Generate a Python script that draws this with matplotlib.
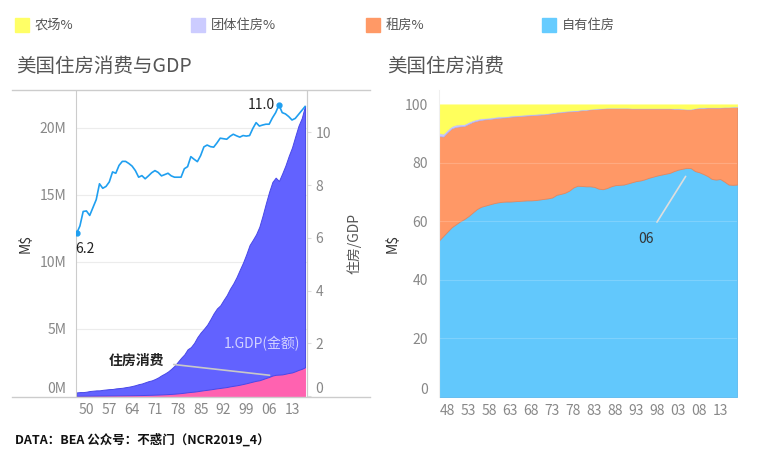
import numpy as np
import matplotlib
matplotlib.use("Agg")
import matplotlib.pyplot as plt
from matplotlib.lines import Line2D
from matplotlib.patches import Rectangle

plt.rcParams['font.family'] = ['Noto Sans CJK SC', 'DejaVu Sans']

# --- DATA: left chart (1947-2017), billions of dollars ---
years_l = list(range(1947, 2018))
gdp = [249.9, 274.8, 272.5, 300.2, 347.3, 367.7, 389.7, 391.1, 426.2, 450.1,
       474.9, 482.0, 522.5, 543.3, 563.3, 605.1, 638.6, 685.8, 743.7, 815.0,
       861.7, 942.5, 1019.9, 1073.3, 1164.9, 1279.1, 1425.4, 1545.2, 1684.9, 1873.4,
       2081.8, 2351.6, 2627.3, 2857.3, 3207.0, 3343.8, 3634.0, 4037.6, 4339.0, 4579.6,
       4855.2, 5236.4, 5641.6, 5963.1, 6158.1, 6520.3, 6858.6, 7287.2, 7639.7, 8073.1,
       8577.6, 9062.8, 9631.2, 10251.0, 10581.8, 10936.4, 11458.2, 12213.7, 13036.6, 13814.6,
       14451.9, 14712.8, 14448.9, 14992.1, 15542.6, 16197.0, 16784.9, 17527.3, 18224.8, 18715.0,
       19519.4]
housing = [15.4, 17.7, 19.1, 21.1, 23.8, 26.3, 29.0, 31.5, 33.6, 35.8,
           38.6, 41.0, 44.2, 47.5, 50.1, 53.9, 56.3, 59.8, 63.6, 67.6,
           72.0, 77.7, 85.2, 90.9, 99.6, 108.5, 119.0, 129.8, 142.4, 156.4,
           172.8, 195.2, 218.1, 246.3, 279.0, 303.6, 326.3, 358.9, 395.7, 432.8,
           462.2, 495.4, 532.6, 572.5, 602.3, 636.4, 668.0, 717.8, 758.6, 796.8,
           842.3, 895.4, 949.6, 1012.8, 1074.1, 1134.1, 1173.3, 1255.6, 1344.1, 1424.3,
           1524.7, 1581.6, 1595.2, 1611.6, 1663.1, 1716.9, 1757.4, 1845.6, 1946.4, 2026.8,
           2143.2]
ratio = [6.17, 6.45, 7.0, 7.02, 6.85, 7.15, 7.45, 8.05, 7.88, 7.95,
         8.12, 8.5, 8.45, 8.75, 8.9, 8.9, 8.82, 8.72, 8.55, 8.3,
         8.36, 8.24, 8.35, 8.47, 8.55, 8.48, 8.35, 8.4, 8.45, 8.35,
         8.3, 8.3, 8.3, 8.62, 8.7, 9.08, 8.98, 8.89, 9.12, 9.45,
         9.52, 9.46, 9.44, 9.6, 9.78, 9.76, 9.74, 9.85, 9.93, 9.87,
         9.82, 9.88, 9.86, 9.88, 10.15, 10.37, 10.24, 10.28, 10.31, 10.31,
         10.55, 10.75, 11.04, 10.75, 10.7, 10.6, 10.47, 10.53, 10.68, 10.83,
         10.98]
xticks_l = [1950, 1957, 1964, 1971, 1978, 1985, 1992, 1999, 2006, 2013]

# --- DATA: right chart (1946-2017), share in % ---
years_r = list(range(1946, 2018))
owner = [53.5, 55.0, 56.5, 58.0, 59.0, 60.0, 60.8, 61.8, 63.0, 64.2,
         65.0, 65.4, 65.8, 66.2, 66.5, 66.7, 66.8, 66.8, 66.9, 67.0,
         67.1, 67.2, 67.2, 67.3, 67.5, 67.7, 67.9, 68.2, 69.1, 69.4,
         69.8, 70.5, 71.6, 72.2, 72.1, 72.0, 72.0, 71.8, 71.2, 71.0,
         71.4, 72.0, 72.4, 72.5, 72.6, 73.0, 73.4, 73.8, 74.0, 74.4,
         74.9, 75.3, 75.7, 76.0, 76.3, 76.6, 77.2, 77.7, 78.0, 78.3,
         78.2, 77.2, 76.8, 76.2, 75.5, 74.5, 74.3, 74.5, 73.6, 72.6,
         72.5, 72.6]
rent = [35.7, 34.0, 34.0, 33.8, 33.3, 32.5, 31.8, 31.5, 31.0, 30.2,
        29.7, 29.5, 29.2, 29.0, 28.9, 28.8, 28.8, 29.0, 29.0, 29.0,
        29.0, 29.0, 29.1, 29.1, 29.0, 28.9, 28.9, 28.8, 28.1, 27.9,
        27.7, 27.1, 26.1, 25.6, 25.9, 26.1, 26.3, 26.6, 27.3, 27.6,
        27.3, 26.7, 26.3, 26.2, 26.1, 25.7, 25.2, 24.8, 24.6, 24.2,
        23.7, 23.3, 22.9, 22.6, 22.3, 22.0, 21.3, 20.8, 20.4, 20.0,
        20.1, 21.4, 22.0, 22.6, 23.4, 24.4, 24.6, 24.4, 25.4, 26.4,
        26.6, 26.5]
group = [1.0, 1.0, 0.9, 0.8, 0.8, 0.7, 0.7, 0.7, 0.6, 0.6,
         0.6, 0.5, 0.5, 0.5, 0.5, 0.4, 0.4, 0.4, 0.4, 0.4,
         0.4, 0.4, 0.4, 0.4, 0.4, 0.3, 0.3, 0.3, 0.3, 0.3,
         0.3, 0.3, 0.3, 0.3, 0.3, 0.2, 0.2, 0.2, 0.2, 0.2,
         0.2, 0.2, 0.2, 0.2, 0.2, 0.2, 0.2, 0.2, 0.2, 0.2,
         0.2, 0.2, 0.2, 0.2, 0.2, 0.2, 0.2, 0.2, 0.2, 0.2,
         0.2, 0.2, 0.2, 0.2, 0.2, 0.2, 0.2, 0.2, 0.2, 0.2,
         0.2, 0.2]
farm = [9.8, 10.0, 8.6, 7.4, 6.9, 6.8, 6.7, 6.0, 5.4, 5.0,
        4.7, 4.6, 4.5, 4.3, 4.1, 4.1, 4.0, 3.8, 3.7, 3.6,
        3.5, 3.4, 3.3, 3.2, 3.1, 3.1, 2.9, 2.7, 2.5, 2.4,
        2.2, 2.1, 2.0, 1.9, 1.7, 1.7, 1.5, 1.4, 1.3, 1.2,
        1.1, 1.1, 1.1, 1.1, 1.1, 1.1, 1.2, 1.2, 1.2, 1.2,
        1.2, 1.2, 1.2, 1.2, 1.2, 1.2, 1.3, 1.3, 1.4, 1.5,
        1.5, 1.2, 1.0, 1.0, 0.9, 0.9, 0.9, 0.9, 0.8, 0.8,
        0.7, 0.7]
xticks_r = list(range(1948, 2018, 5))

legend_labels = ['农场%', '团体住房%', '租房%', '自有住房']
legend_colors = ['#ffff66', '#ccccff', '#ff9966', '#66ccff']

W, H = 762, 465
fig = plt.figure(figsize=(W / 100, H / 100), dpi=100)


def fx(x):
    return x / W


def fy(y):
    return 1 - y / H


tick_c = '#888888'
frame_c = '#cccccc'

# --- LEFT CHART ---
ax1 = fig.add_axes([fx(76), fy(396), 231 / W, 305 / H])
polys = ax1.stackplot(years_l, housing, gdp, colors=['#ff62b0', '#6262ff'], linewidth=0.7)
for p, ec in zip(polys, ['#ff62b0', '#4848e8']):
    p.set_edgecolor(ec)
ax1.set_xlim(1946.8, 2017.6)
ax1.set_ylim(0, 22760)
ax1.set_yticks([0, 5000, 10000, 15000, 20000])
ax1.set_yticklabels(['0M', '5M', '10M', '15M', '20M'])
ax1.set_xticks(xticks_l)
ax1.set_xticklabels([str(y)[2:] for y in xticks_l])
ax1.grid(axis='y', color='#ececec', lw=0.8)
ax1.set_axisbelow(True)
ax1.tick_params(colors=tick_c, labelsize=10, length=0)
ax1.tick_params(axis='y', pad=7)
ax1.tick_params(axis='x', pad=5)
for s in ['top', 'bottom']:
    ax1.spines[s].set_visible(False)
for s in ['left', 'right']:
    ax1.spines[s].set_color(frame_c)
ax1.set_ylabel('M$', color='#333333', fontsize=10)
ax1.yaxis.set_label_coords(-0.186, 0.5)
ax1.get_yticklabels()[0].set_va('bottom')

ax2 = ax1.twinx()
line_c = '#1f9ff0'
ax2.plot(years_l, ratio, color=line_c, lw=1.2)
ax2.set_ylim(0, 11.57)
ax2.set_yticks([0, 2, 4, 6, 8, 10])
ax2.tick_params(axis='y', colors='#dddddd', labelcolor=tick_c, labelsize=10,
                length=3, pad=3)
for s in ['top', 'bottom', 'left']:
    ax2.spines[s].set_visible(False)
ax2.spines['right'].set_color(frame_c)
ax2.set_ylabel('住房/GDP', color='#555555', fontsize=10)
ax2.yaxis.set_label_coords(1.172, 0.5)
ax2.get_yticklabels()[0].set_va('bottom')

ipk = int(np.argmax(ratio))
ax2.plot([years_l[0], years_l[ipk]], [ratio[0], ratio[ipk]], 'o', color=line_c, ms=3.5)
ax2.annotate(f'{ratio[0]:.1f}', (years_l[0], ratio[0]), xytext=(-1, -11),
             textcoords='offset points', ha='left', va='center', fontsize=10, color='#222222')
ax2.annotate(f'{ratio[ipk]:.1f}', (years_l[ipk], ratio[ipk]), xytext=(-3, 0),
             textcoords='offset points', ha='right', va='center', fontsize=10, color='#222222')

i07 = years_l.index(2007)
ax1.annotate('住房消费', (years_l[i07], housing[i07]), xytext=(-98, 11),
             textcoords='offset points', ha='center', va='center', fontsize=10,
             fontweight='bold', color='#222222',
             arrowprops=dict(arrowstyle='-', color='#c8c8c8', lw=1.2, shrinkA=5, shrinkB=2))
fig.text(fx(224), fy(344), '1.GDP(金额)', color='#d2d2ff', fontsize=10, va='center', ha='left')

# frame lines across the left pane
for yy in (90, 397):
    fig.add_artist(Line2D([fx(12), fx(370)], [fy(yy), fy(yy)], color=frame_c, lw=1))

# --- RIGHT CHART ---
ax3 = fig.add_axes([fx(439), fy(397), 298 / W, 307 / H])
polys = ax3.stackplot(years_r, owner, rent, group, farm,
                      colors=['#62c8fc', '#ff9866', '#c8c8ff', '#ffff5c'], linewidth=0.6)
for p, ec in zip(polys, ['#5ab8ee', '#e8875a', '#b4b4f0', '#ffff5c']):
    p.set_edgecolor(ec)
ax3.set_xlim(1946, 2017)
ax3.set_ylim(0, 104.9)
ax3.set_yticks([0, 20, 40, 60, 80, 100])
ax3.set_xticks(xticks_r)
ax3.set_xticklabels([str(y)[2:] for y in xticks_r])
ax3.grid(axis='y', color='white', alpha=0.18, lw=0.8)
ax3.tick_params(colors=tick_c, labelsize=10, length=0)
ax3.tick_params(axis='y', pad=8)
ax3.tick_params(axis='x', pad=5)
for s in ['top', 'bottom', 'right']:
    ax3.spines[s].set_visible(False)
ax3.spines['left'].set_color('#efefef')
ax3.set_ylabel('M$', color='#333333', fontsize=10)
ax3.yaxis.set_label_coords(-0.131, 0.5)
ax3.get_yticklabels()[0].set_va('bottom')

i06 = years_r.index(2006)
ax3.annotate(str(years_r[i06])[2:], (years_r[i06], owner[i06]), xytext=(-32, -51),
             textcoords='offset points', ha='center', va='center', fontsize=10,
             color='#333333',
             arrowprops=dict(arrowstyle='-', color='#dedede', lw=1.2, shrinkA=6, shrinkB=7))

# --- TITLES, LEGEND, FOOTER ---
fig.text(fx(16), fy(66), '美国住房消费与GDP', fontsize=14, color='#555555', va='center')
fig.text(fx(387), fy(66), '美国住房消费', fontsize=14, color='#555555', va='center')

for i, (lab, col) in enumerate(zip(legend_labels, legend_colors)):
    x0 = 15 + i * 175.5
    fig.add_artist(Rectangle((fx(x0), fy(32)), 14 / W, 14 / H, color=col,
                             transform=fig.transFigure))
    fig.text(fx(x0 + 20), fy(25), lab, fontsize=9.5, color='#555555', va='center')

fig.text(fx(15), fy(440), 'DATA：BEA 公众号：不惑门（NCR2019_4）', fontsize=9,
         fontweight='bold', color='#111111', va='center')

fig.savefig('out.png', dpi=100)
